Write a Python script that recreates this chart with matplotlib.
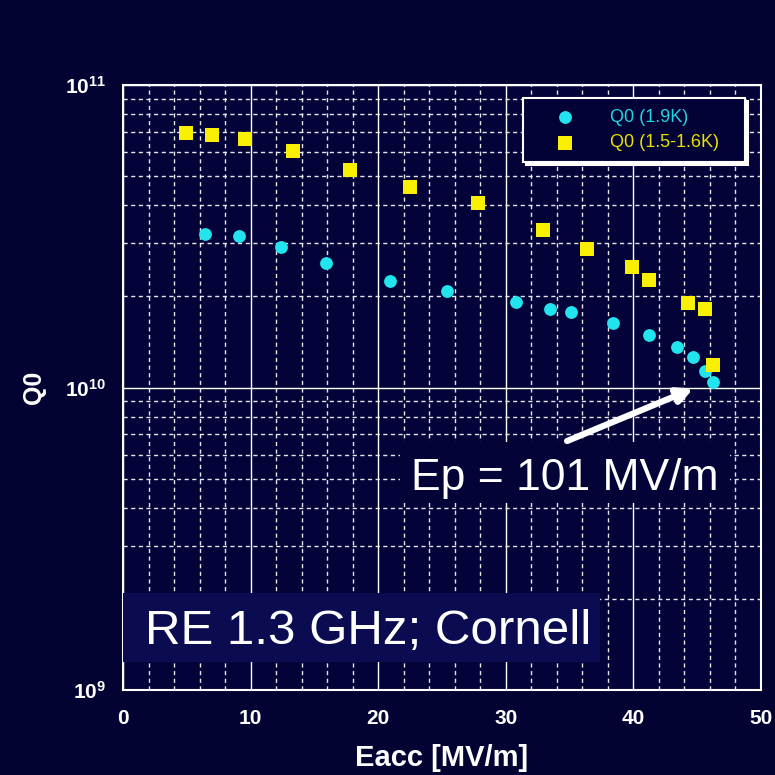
import matplotlib
matplotlib.use("Agg")
import matplotlib.pyplot as plt
from matplotlib.patches import Rectangle
from matplotlib.ticker import LogLocator, MultipleLocator, NullFormatter

plt.rcParams['font.family'] = ['Liberation Sans', 'DejaVu Sans']

# Data
eacc_19k = [6.4, 9.1, 12.4, 15.9, 20.9, 25.4, 30.8, 33.5, 35.1, 38.4, 41.2, 43.4, 44.7, 45.6, 46.2]
q0_19k = [3.21e10, 3.17e10, 2.91e10, 2.58e10, 2.25e10, 2.08e10, 1.92e10, 1.82e10, 1.78e10,
          1.63e10, 1.49e10, 1.36e10, 1.26e10, 1.13e10, 1.04e10]
eacc_15k = [4.9, 7.0, 9.6, 13.3, 17.8, 22.5, 27.8, 32.9, 36.4, 39.9, 41.2, 44.3, 45.6, 46.2]
q0_15k = [6.94e10, 6.84e10, 6.63e10, 6.05e10, 5.24e10, 4.60e10, 4.08e10, 3.32e10, 2.87e10,
          2.50e10, 2.27e10, 1.90e10, 1.82e10, 1.19e10]
label_19k = "Q0 (1.9K)"
label_15k = "Q0 (1.5-1.6K)"
x_label = "Eacc [MV/m]"
y_label = "Q0"
title_box = "RE 1.3 GHz; Cornell"
note_text = "Ep = 101 MV/m"

bg = '#020233'
ax_bg = '#03033a'
box_bg = '#0b0b52'

fig = plt.figure(figsize=(7.75, 7.75), dpi=100, facecolor=bg)
ax = fig.add_axes([123/775, 1 - 690/775, (761 - 123)/775, (690 - 85)/775])
ax.set_facecolor(ax_bg)

ax.set_yscale('log')
ax.set_xlim(0, 50)
ax.set_ylim(1e9, 1e11)

ax.xaxis.set_major_locator(MultipleLocator(10))
ax.xaxis.set_minor_locator(MultipleLocator(2))
ax.yaxis.set_major_locator(LogLocator(base=10, numticks=5))
ax.yaxis.set_minor_locator(LogLocator(base=10, subs=range(2, 10), numticks=20))
ax.yaxis.set_minor_formatter(NullFormatter())

ax.grid(which='major', color='white', linestyle='-', linewidth=1.0)
ax.grid(which='minor', color='white', linestyle=(0, (3, 2.5)), linewidth=1.0, alpha=0.9)
ax.set_axisbelow(True)

for s in ax.spines.values():
    s.set_color('white')
    s.set_linewidth(1.5)

ax.tick_params(which='both', length=0, colors='white', labelsize=15)
ax.tick_params(axis='x', pad=14)
ax.tick_params(axis='y', pad=12)
for lab in ax.get_xticklabels() + ax.get_yticklabels():
    lab.set_fontweight('bold')

ax.scatter(eacc_19k, q0_19k, marker='o', s=85, color='#22e4ee', label=label_19k, zorder=3, linewidths=0)
ax.scatter(eacc_15k, q0_15k, marker='s', s=110, color='#f8f000', label=label_15k, zorder=3, linewidths=0)

ax.set_xlabel(x_label, color='white', fontsize=21, fontweight='bold', labelpad=11)
ax.set_ylabel(y_label, color='white', fontsize=18, fontweight='bold', labelpad=14)

leg = ax.legend(loc='upper left', bbox_to_anchor=(0.627, 0.874, 0.348, 0.104), mode='expand',
                borderaxespad=0, fontsize=13, facecolor='#020236', edgecolor='white',
                framealpha=1, fancybox=False, handlelength=3.4, handletextpad=0.8,
                borderpad=0.6, labelspacing=0.45,
                shadow={'color': 'white', 'alpha': 1})
leg.get_frame().set_linewidth(1.5)
for txt, c in zip(leg.get_texts(), ['#22d4de', '#e8e000']):
    txt.set_color(c)

# Annotation boxes
ax.add_patch(Rectangle((0.434, 0.309), 0.517, 0.101, transform=ax.transAxes,
                       facecolor='#030338', edgecolor='none', zorder=4))
ax.text(0.693, 0.350, note_text, transform=ax.transAxes, color='white', fontsize=32,
        ha='center', va='center', zorder=5)
ax.annotate('', xy=(44.9, 1.0e10), xytext=(34.6, 6.6e9),
            arrowprops=dict(arrowstyle='-|>,head_length=0.9,head_width=0.45', color='white', lw=4.5),
            zorder=6)

ax.add_patch(Rectangle((0.0, 0.046), 0.747, 0.114, transform=ax.transAxes,
                       facecolor=box_bg, edgecolor='none', zorder=4))
ax.text(0.034, 0.096, title_box, transform=ax.transAxes, color='white', fontsize=35.5,
        ha='left', va='center', zorder=5)

fig.savefig('out.png', dpi=100, facecolor=bg)
